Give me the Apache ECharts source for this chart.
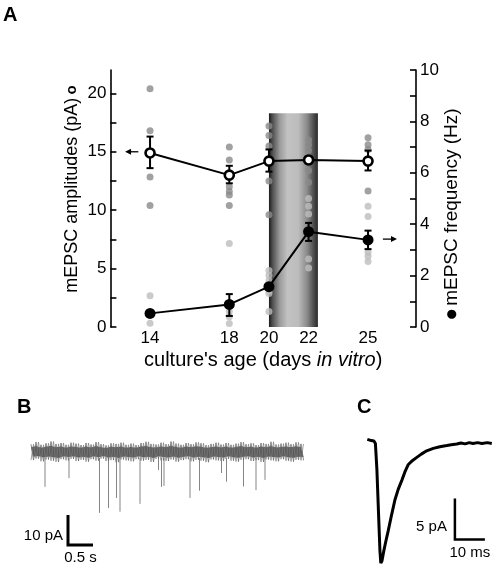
<!DOCTYPE html>
<html><head><meta charset="utf-8">
<script src="https://cdn.jsdelivr.net/npm/echarts@6/dist/echarts.min.js"></script>
<style>html,body{margin:0;padding:0;background:#fff}#c{width:496px;height:568px}</style>
</head><body><div id="c"></div>
<script>
const FONT = '"Liberation Sans", Arial, sans-serif';

// ---------- Panel A data ----------
const days = [14, 18, 20, 22, 25];
const dayTicks = [14, 18, 20, 22, 25];
const ampLabelTicks = [0, 5, 10, 15, 20];
const ampMinorTicks = [0, 2.5, 5, 7.5, 10, 12.5, 15, 17.5, 20];
const freqLabelTicks = [0, 2, 4, 6, 8, 10];
const freqMinorTicks = [0, 1, 2, 3, 4, 5, 6, 7, 8, 9, 10];

const ampMean  = [14.9, 13.0, 14.2, 14.3, 14.2];
const ampErrHi = [16.3, 13.8, 15.2, 14.6, 15.1];
const ampErrLo = [13.6, 12.3, 13.3, 14.0, 13.4];

const freqMean  = [0.53, 0.88, 1.57, 3.71, 3.39];
const freqErrHi = [0.6, 1.28, 1.65, 4.05, 3.75];
const freqErrLo = [0.46, 0.43, 1.5, 3.35, 3.03];

const ampDots14 = [20.4, 16.8, 12.85, 10.4];
const ampDots18 = [15.4, 14.3, 12.0, 11.6, 11.3, 10.4];
const ampDots20 = [17.2, 16.4, 15.5, 12.5, 9.6];
const ampDots22 = [16.0, 15.6, 15.1, 13.4, 12.4];
const ampDots25 = [16.2, 15.6, 15.2, 11.65];

const freqDots14 = [1.22, 0.15];
const freqDots18 = [3.25, 0.6, 0.4, 0.14];
const freqDots20 = [2.2, 2.0, 1.8, 1.4, 1.3, 0.6];
const freqDots22 = [5.0, 4.7, 4.4, 2.65, 2.3];
const freqDots25 = [4.7, 4.3, 2.9, 2.75, 2.55];

// shaded period (days 20-22.5)
const bandStart = 20, bandEnd = 22.47, bandTop = 18.3;
// arrows: [from day, to day, value]
const ampArrow = [13.41, 12.74, 15];
const freqArrow = [25.75, 26.46, 3.42];

// ---------- Panel B data (pA, time in s) ----------
const traceStep = 0.1;
const traceUpper = [2.6,3.3,2.4,2.9,3.5,2.7,3.0,2.4,3.1,2.8,
  2.3,3.0,2.5,3.3,2.6,2.2,2.9,2.7,3.1,2.4,
  2.8,2.3,3.0,3.4,2.7,2.5,3.1,2.6,3.5,2.8,
  2.4,3.0,2.6,3.2,2.9,2.3,2.7,3.1,2.5,3.0,
  2.4,2.8,3.3,2.6,2.9,2.3,3.0,2.7,3.4,2.5,
  2.8,3.1,2.6,3.2,2.7];
const traceLower = [-2.7,-2.2,-3.1,-2.5,-2.9,-3.3,-2.4,-2.8,-2.3,-3.0,
  -2.6,-3.2,-2.4,-2.9,-2.2,-3.0,-2.7,-3.4,-2.5,-2.8,
  -3.1,-2.4,-2.9,-2.6,-3.3,-2.3,-2.8,-3.0,-2.5,-3.2,
  -2.7,-2.4,-3.1,-2.6,-2.9,-3.4,-2.5,-2.8,-3.0,-2.3,
  -2.9,-3.2,-2.6,-2.4,-3.0,-2.7,-3.3,-2.5,-2.8,-3.1,
  -2.4,-2.9,-3.2,-2.6,-2.8];
// events: [time s, amplitude pA]
const spikes = [[0.28,11.6],[0.76,8.7],[1.37,20.3],[1.55,18.7],[1.71,15.3],[1.78,19.9],
  [2.18,17.3],[2.55,6.0],[2.61,11.6],[2.66,11.3],[3.18,15.3],[3.37,12.9],[3.81,7.0],
  [3.91,9.9],[4.25,11.5],[4.5,12.7],[4.68,9.3]];
const scaleB = [0.74, -21, 0.5, 10];
const scaleBLabels = ['10 pA', '0.5 s'];

// ---------- Panel C data (averaged mEPSC) ----------
const mepscTime = [0,0.9,2.2,2.7,3.2,3.7,4.2,4.5,4.9,5.5,
  6.2,7.0,8.1,9.2,10.3,11.5,12.5,13.6,15.0,16.5,
  18.0,19.8,22.0,24.2,26.5,28.0,29.8,31.2,32.6,34.0,
  35.2,36.8,38.2,40.0,41.5];
const mepscAmp = [0.2,0.1,0.0,-0.3,-3.5,-8.4,-13.3,-14.9,-14.6,-13.4,
  -12.2,-10.9,-9.0,-7.2,-5.9,-4.8,-3.8,-2.9,-2.4,-2.0,
  -1.6,-1.2,-0.9,-0.7,-0.55,-0.45,-0.37,-0.25,-0.35,-0.2,
  -0.3,-0.2,-0.3,-0.2,-0.3];
const scaleC = [29.2, -7.0, 10, 5];
const scaleCLabels = ['5 pA', '10 ms'];

// ---------- build ----------
const ampDotsByDay = [ampDots14, ampDots18, ampDots20, ampDots22, ampDots25];
const freqDotsByDay = [freqDots14, freqDots18, freqDots20, freqDots22, freqDots25];
const ampDotPairs = [], freqDotPairs = [];
days.forEach((d, i) => {
  ampDotsByDay[i].forEach(v => ampDotPairs.push([d, v]));
  freqDotsByDay[i].forEach(v => freqDotPairs.push([d, v]));
});
const ampErrData = days.map((d, i) => [d, ampErrHi[i], ampErrLo[i]]);
const freqErrData = days.map((d, i) => [d, freqErrHi[i], freqErrLo[i]]);
// two interleaved traversals of the same envelope samples -> dense noisy band
const zigzagA = [], zigzagB = [];
traceUpper.forEach((u, i) => {
  zigzagA.push([i * traceStep, u]);
  zigzagA.push([i * traceStep + traceStep / 2, traceLower[i]]);
  zigzagB.push([i * traceStep, traceLower[i]]);
  zigzagB.push([i * traceStep + traceStep / 2, u]);
});
const mepscData = mepscTime.map((t, i) => [t, mepscAmp[i]]);

const bandGrad = new echarts.graphic.LinearGradient(0, 0, 1, 0, [
  {offset: 0, color: '#1c1c1c'}, {offset: 0.07, color: '#4e4e4e'},
  {offset: 0.22, color: '#9a9a9a'}, {offset: 0.38, color: '#c2c2c2'},
  {offset: 0.6, color: '#bcbcbc'}, {offset: 0.78, color: '#8a8a8a'},
  {offset: 0.92, color: '#4a4a4a'}, {offset: 1, color: '#2a2a2a'}]);

function bandRender(params, api) {
  const a = api.coord([api.value(0), api.value(2)]);
  const b = api.coord([api.value(1), 0]);
  return {type: 'rect', shape: {x: a[0], y: a[1], width: b[0] - a[0], height: b[1] - a[1]},
    style: {fill: bandGrad}};
}
function errRender(params, api) {
  const x = api.value(0);
  const a = api.coord([x, api.value(1)]);
  const b = api.coord([x, api.value(2)]);
  const w = 3.5, st = {stroke: '#000', lineWidth: 2};
  return {type: 'group', children: [
    {type: 'line', shape: {x1: a[0], y1: a[1], x2: b[0], y2: b[1]}, style: st},
    {type: 'line', shape: {x1: a[0] - w, y1: a[1], x2: a[0] + w, y2: a[1]}, style: st},
    {type: 'line', shape: {x1: b[0] - w, y1: b[1], x2: b[0] + w, y2: b[1]}, style: st}]};
}
function arrowRender(params, api) {
  const a = api.coord([api.value(0), api.value(2)]);
  const b = api.coord([api.value(1), api.value(2)]);
  const dir = Math.sign(b[0] - a[0]), hl = 6, hw = 3;
  return {type: 'group', children: [
    {type: 'line', shape: {x1: a[0], y1: a[1], x2: b[0] - dir * hl * 0.5, y2: b[1]}, style: {stroke: '#000', lineWidth: 1.3}},
    {type: 'polygon', shape: {points: [[b[0], b[1]], [b[0] - dir * hl, b[1] - hw], [b[0] - dir * hl, b[1] + hw]]}, style: {fill: '#000'}}]};
}
function traceFillRender(params, api) {
  const pts = [];
  for (let i = 0; i < traceUpper.length; i++) pts.push(api.coord([i * traceStep, traceUpper[i] * 0.6]));
  for (let i = traceLower.length - 1; i >= 0; i--) pts.push(api.coord([i * traceStep + traceStep / 2, traceLower[i] * 0.6]));
  return {type: 'polygon', shape: {points: pts}, style: {fill: '#5a5a5a'}};
}
function spikeRender(params, api) {
  const a = api.coord([api.value(0), -2]);
  const b = api.coord([api.value(0), -api.value(1)]);
  return {type: 'line', shape: {x1: a[0], y1: a[1], x2: b[0], y2: b[1]}, style: {stroke: '#858585', lineWidth: 1}};
}
function makeScaleRender(labels, lw, gapV, gapT) {
  return function (params, api) {
    const t = api.value(0), top = api.value(1), dt = api.value(2), dv = api.value(3);
    const p0 = api.coord([t, top]), p1 = api.coord([t, top - dv]), p2 = api.coord([t + dt, top - dv]);
    const ts = {fontSize: 15, fontFamily: FONT, fill: '#000'};
    return {type: 'group', children: [
      {type: 'polyline', shape: {points: [p0, p1, p2]}, style: {stroke: '#000', lineWidth: lw, fill: null}},
      {type: 'text', x: p0[0] - gapV, y: p0[1] + 0.7 * (p1[1] - p0[1]),
        style: Object.assign({text: labels[0], align: 'right', verticalAlign: 'middle'}, ts)},
      {type: 'text', x: (p1[0] + p2[0]) / 2, y: p1[1] + gapT,
        style: Object.assign({text: labels[1], align: 'center', verticalAlign: 'middle'}, ts)}]};
  };
}

const tickLabel = {color: '#000', fontSize: 17, fontFamily: FONT};
const axLine = {show: true, lineStyle: {color: '#000', width: 1.6}};

const option = {
  animation: false,
  backgroundColor: '#fff',
  grid: [
    {left: 110.4, top: 70, width: 305.6, height: 257, outerBoundsMode: 'none'},
    {left: 31, top: 437, width: 272, height: 96, outerBoundsMode: 'none'},
    {left: 367.3, top: 428.7, width: 126, height: 139.4, outerBoundsMode: 'none'}
  ],
  xAxis: [
    {type: 'value', gridIndex: 0, min: 12, max: 27.42,
      axisLine: {show: false}, axisTick: {show: false}, splitLine: {show: false},
      axisLabel: Object.assign({customValues: dayTicks, margin: 3}, tickLabel),
      name: "culture's age (days {i|in vitro})", nameLocation: 'middle', nameGap: 23,
      nameTextStyle: {color: '#000', fontSize: 20, fontFamily: FONT,
        rich: {i: {fontStyle: 'italic', fontSize: 20, fontFamily: FONT, color: '#000'}}}},
    {type: 'value', gridIndex: 1, min: 0, max: 5.44, show: false},
    {type: 'value', gridIndex: 2, min: 0, max: 42, show: false}
  ],
  yAxis: [
    {type: 'value', gridIndex: 0, min: 0, max: 22, position: 'left',
      axisLine: axLine, splitLine: {show: false},
      axisTick: {show: true, inside: true, length: 6, customValues: ampMinorTicks, lineStyle: {color: '#000', width: 1.6}},
      axisLabel: Object.assign({customValues: ampLabelTicks, margin: 4}, tickLabel)},
    {type: 'value', gridIndex: 0, min: 0, max: 10, position: 'right',
      axisLine: axLine, splitLine: {show: false},
      axisTick: {show: true, inside: true, length: 6, customValues: freqMinorTicks, lineStyle: {color: '#000', width: 1.6}},
      axisLabel: Object.assign({customValues: freqLabelTicks, margin: 4}, tickLabel)},
    {type: 'value', gridIndex: 1, min: -27, max: 5, show: false},
    {type: 'value', gridIndex: 2, min: -15.5, max: 1.5, show: false}
  ],
  graphic: [
    {type: 'text', x: 3, y: 15, style: {text: 'A', fontSize: 20, fontWeight: 'bold', fontFamily: FONT, fill: '#000', verticalAlign: 'middle'}},
    {type: 'text', x: 17, y: 407, style: {text: 'B', fontSize: 20, fontWeight: 'bold', fontFamily: FONT, fill: '#000', verticalAlign: 'middle'}},
    {type: 'text', x: 357, y: 407, style: {text: 'C', fontSize: 20, fontWeight: 'bold', fontFamily: FONT, fill: '#000', verticalAlign: 'middle'}},
    {type: 'text', x: 72, y: 189, rotation: Math.PI / 2,
      style: {text: '{t|mEPSC amplitudes (pA)} {o|o}', align: 'center', verticalAlign: 'middle',
        rich: {t: {fontSize: 18, fontFamily: FONT, fill: '#000'}, o: {fontSize: 15, fontWeight: 'bold', fontFamily: FONT, fill: '#000'}}}},
    {type: 'text', x: 452, y: 214, rotation: Math.PI / 2,
      style: {text: '{d|●} {t|mEPSC frequency (Hz)}', align: 'center', verticalAlign: 'middle',
        rich: {t: {fontSize: 19, fontFamily: FONT, fill: '#000'}, d: {fontSize: 12, fontFamily: '"DejaVu Sans"', fill: '#000'}}}}
  ],
  series: [
    {type: 'custom', xAxisIndex: 0, yAxisIndex: 0, z: 1, silent: true,
      encode: {x: [0, 1], y: 2}, data: [[bandStart, bandEnd, bandTop]], renderItem: bandRender},
    {type: 'scatter', xAxisIndex: 0, yAxisIndex: 1, z: 2, silent: true, symbolSize: 7,
      itemStyle: {color: '#bdbdbd'}, data: freqDotPairs},
    {type: 'scatter', xAxisIndex: 0, yAxisIndex: 0, z: 2, silent: true, symbolSize: 7,
      itemStyle: {color: '#8a8a8a'}, data: ampDotPairs},
    {type: 'custom', xAxisIndex: 0, yAxisIndex: 0, z: 3, silent: true,
      encode: {x: 0, y: [1, 2]}, data: ampErrData, renderItem: errRender},
    {type: 'custom', xAxisIndex: 0, yAxisIndex: 1, z: 3, silent: true,
      encode: {x: 0, y: [1, 2]}, data: freqErrData, renderItem: errRender},
    {type: 'line', xAxisIndex: 0, yAxisIndex: 0, z: 4, silent: true,
      data: days.map((d, i) => [d, ampMean[i]]), symbol: 'circle', symbolSize: 9,
      lineStyle: {color: '#000', width: 2}, itemStyle: {color: '#fff', borderColor: '#000', borderWidth: 2.6}},
    {type: 'line', xAxisIndex: 0, yAxisIndex: 1, z: 4, silent: true,
      data: days.map((d, i) => [d, freqMean[i]]), symbol: 'circle', symbolSize: 11,
      lineStyle: {color: '#000', width: 2}, itemStyle: {color: '#000', borderWidth: 0}},
    {type: 'custom', xAxisIndex: 0, yAxisIndex: 0, z: 4, silent: true,
      encode: {x: [0, 1], y: 2}, data: [ampArrow], renderItem: arrowRender},
    {type: 'custom', xAxisIndex: 0, yAxisIndex: 1, z: 4, silent: true,
      encode: {x: [0, 1], y: 2}, data: [freqArrow], renderItem: arrowRender},
    // Panel B
    {type: 'custom', xAxisIndex: 1, yAxisIndex: 2, z: 2, silent: true,
      data: [[0, 0]], renderItem: traceFillRender},
    {type: 'custom', xAxisIndex: 1, yAxisIndex: 2, z: 1, silent: true,
      data: spikes, renderItem: spikeRender},
    {type: 'line', xAxisIndex: 1, yAxisIndex: 2, z: 3, silent: true, showSymbol: false, symbol: 'none',
      data: zigzagA, lineStyle: {color: '#6a6a6a', width: 0.8}},
    {type: 'line', xAxisIndex: 1, yAxisIndex: 2, z: 3, silent: true, showSymbol: false, symbol: 'none',
      data: zigzagB, lineStyle: {color: '#7a7a7a', width: 0.7}},
    {type: 'custom', xAxisIndex: 1, yAxisIndex: 2, z: 3, silent: true,
      data: [scaleB], renderItem: makeScaleRender(scaleBLabels, 3, 5, 13)},
    // Panel C
    {type: 'line', xAxisIndex: 2, yAxisIndex: 3, z: 3, silent: true, showSymbol: false, symbol: 'none',
      data: mepscData, lineStyle: {color: '#000', width: 3}},
    {type: 'custom', xAxisIndex: 2, yAxisIndex: 3, z: 3, silent: true,
      data: [scaleC], renderItem: makeScaleRender(scaleCLabels, 2.5, 8, 13)}
  ]
};
const chart = echarts.init(document.getElementById('c'));
chart.setOption(option);
</script></body></html>
